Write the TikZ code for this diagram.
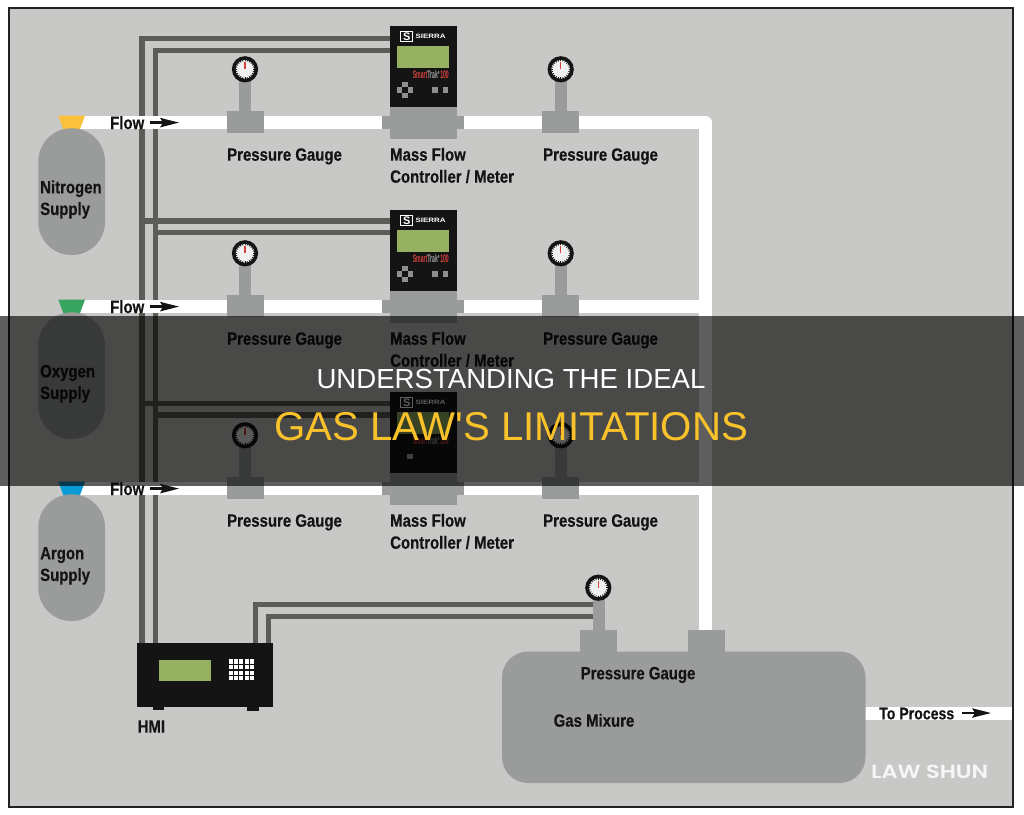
\documentclass[tikz,border=0pt]{standalone}
\usepackage{graphicx}
\usepackage{fontspec}
\setmainfont{Liberation Sans}
\newfontfamily\labelfont[FakeStretch=0.84,FakeBold=0.35]{Liberation Sans Bold}
\newfontfamily\plainbold{Liberation Sans Bold}
\newfontfamily\titlefont{Liberation Sans}
\newfontfamily\markfont{Poppins SemiBold}
\definecolor{panel}{HTML}{C8C8C6}
\definecolor{frameink}{HTML}{222222}
\definecolor{wire}{HTML}{5E5C58}
\definecolor{body}{HTML}{9A9B9B}
\definecolor{ink}{HTML}{141414}
\definecolor{lcd}{HTML}{97B163}
\definecolor{key}{HTML}{8F8F8F}
\definecolor{dial}{HTML}{D8443C}
\definecolor{amber}{HTML}{F9C13C}
\definecolor{leaf}{HTML}{37A45F}
\definecolor{sky}{HTML}{0A9AD6}
\definecolor{titlegold}{HTML}{F9C22B}
\tikzset{
  x=1pt,y=-1pt,
  wireline/.style={draw=wire,line width=5.5pt,line join=miter},
  pipe/.style={draw=white,line width=13pt,line join=round},
  solid body/.style={fill=body,draw=none},
  caption/.style={font=\labelfont\fontsize{17.8}{20}\selectfont,text=ink,anchor=base west,inner sep=0pt},
  key/.style={fill=key,draw=none},
  gaugeface/.style={circle,draw=ink,line width=3.6pt,fill=white!94!black,minimum size=22.6pt,inner sep=0pt},
  titleline/.style={inner sep=0pt},
}
% Dial face: ring, scale ticks and pointer
\newcommand{\dialface}[3]{%
  \node[gaugeface] (#3) at (#1,#2) {};
  \foreach \a in {0,15,...,345}{\draw[ink,line width=.7pt] (#1,#2) ++(\a:8) -- ++(\a:2);}
  \draw[dial,line width=1.1pt] (#1,#2) -- (#1,#2-7);
}
% A dial with its riser and the tee on the pipe below it
\newcommand{\teegauge}[3]{%
  \fill[solid body] (#1-6,#2+10) rectangle (#1+6,#2+44);
  \fill[solid body] (#1-18.5,#2+41.7) rectangle (#1+18.5,#2+64);
  \dialface{#1}{#2}{#3}
}
% Maker's mark and display of a flow controller
\newcommand{\faceplate}[1]{%
  \fill[lcd] (397,#1+20) rectangle (448.7,#1+41.5);
  \draw[white,line width=.9pt] (400.6,#1+5.6) rectangle (412.8,#1+15.6);
  \node[inner sep=0pt,text=white,font=\plainbold\fontsize{11}{11}\selectfont] at (406.7,#1+10.6) {S};
  \node[inner sep=0pt,text=white,anchor=west,font=\plainbold] at (415.3,#1+10.2) {\resizebox{30pt}{4.4pt}{SIERRA}};
  \node[inner sep=0pt,anchor=east,font=\plainbold] at (449,#1+48.5)
    {\resizebox{36pt}{8pt}{\textcolor{dial}{Smart}\textcolor{gray!75}{Trak}\textcolor{white}{\raisebox{4pt}{\fontsize{4}{4}\selectfont®}}\,\textcolor{dial}{100}}};
}
% A flow controller: instrument face above its grey valve body
\newcommand{\controller}[2]{%
  \fill[solid body] (390,#1+81) rectangle (456.5,#1+113);
  \fill[solid body] (382,#1+90.3) rectangle (463.5,#1+103);
  \fill[ink] (390,#1) rectangle (456.5,#1+81.3);
  \faceplate{#1}
  \ifnum#2=1
  \foreach \u/\v in {0/-5.3,0/5.3,-5.3/0,5.3/0}{\fill[key] (405+\u-2.7,#1+64+\v-2.7) rectangle ++(5.4,5.4);}
  \fill[key] (432.3,#1+61.3) rectangle ++(5.4,5.4);
  \fill[key] (443,#1+61.3) rectangle ++(5.4,5.4);
  \fi
}
% A supply bottle with its coloured valve
\newcommand{\bottle}[3]{%
  \fill[#3] (58.3,#1+115.7) -- (85,#1+115.7) -- (80,#1+129) -- (63.3,#1+129) -- cycle;
  \fill[solid body,rounded corners=33pt] (38.3,#1+128.3) rectangle (105,#1+255);
  \node[caption] (#2) at (40,#1+193.3) {#2};
  \node[caption] (#2s) at (40,#1+215) {Supply};
}
\begin{document}
\begin{tikzpicture}
\useasboundingbox (0,0) rectangle (1024,814);
\fill[white] (0,0) rectangle (1024,814);
\draw[fill=panel,draw=frameink,line width=2pt] (9,8) rectangle (1013,807);

% Signal lines from the HMI out to each instrument
\draw[wireline] (392,38.6) -- (142,38.6) -- (142,645);
\draw[wireline] (392,50.4) -- (155.5,50.4) -- (155.5,645);
\foreach \dy in {182.2,364.7}{
  \draw[wireline] (142,38.6+\dy) -- (392,38.6+\dy);
  \draw[wireline] (155.5,50.4+\dy) -- (392,50.4+\dy);
}
\draw[wireline] (255.3,645) -- (255.3,604.7) -- (594,604.7);
\draw[wireline] (268.6,645) -- (268.6,616.5) -- (594,616.5);

% Gas lines
\draw[pipe] (78,122.5) -- (705.5,122.5) -- (705.5,632);
\draw[pipe] (78,306.5) -- (705.5,306.5);
\draw[pipe] (78,488.5) -- (705.5,488.5);
\draw[pipe] (860,713) -- (1012,713);

% Supplies
\bottle{0}{Nitrogen}{amber}
\bottle{184}{Oxygen}{leaf}
\bottle{366}{Argon}{sky}

% Row instruments
\foreach \dy/\live in {0/1,184/1,366/0}{
  \teegauge{245}{69.3+\dy}{g}
  \teegauge{560.7}{69.3+\dy}{h}
  \controller{26+\dy}{\live}
}
% Lone key on the third controller
\fill[gray!65] (407.3,453.7) rectangle ++(5.4,5.4);

% Row captions
\foreach \dy in {0,184,366}{
  \node[caption] (fl) at (110,129+\dy) {Flow};
  \draw[ink,line width=2.6pt] (150,122.6+\dy) -- (165,122.6+\dy);
  \fill[ink] (160,117.8+\dy) -- (179,122.6+\dy) -- (160,127.4+\dy) -- (163,122.6+\dy) -- cycle;
  \node[caption] at (227,160.7+\dy) {Pressure Gauge};
  \node[caption] at (390,160.7+\dy) {Mass Flow};
  \node[caption] at (390,182.7+\dy) {Controller / Meter};
  \node[caption] at (543,160.7+\dy) {Pressure Gauge};
}

% HMI panel
\fill[ink] (136.7,643.3) rectangle (273.3,706.7);
\fill[ink] (153,706) rectangle (164,710);
\fill[ink] (247,706) rectangle (259,711);
\fill[lcd] (159,659.5) rectangle (210.7,681);
\foreach \c in {0,...,4}{\foreach \r in {0,...,3}{
  \fill[white] (229+\c*5.2,659.3+\r*5.6) rectangle ++(3.9,4.2);
}}
\node[caption] (hmi) at (137.5,732.7) {HMI};

% Mixing tank
\fill[solid body] (579.6,629.5) rectangle (617,655);
\fill[solid body] (592.5,597) rectangle (605,632);
\fill[solid body] (687.6,629.5) rectangle (724.8,655);
\fill[solid body,rounded corners=26pt] (502,651.5) rectangle (865.5,783);
\dialface{598.3}{587.7}{tankgauge}
\node[caption] (tanklabel) at (580.5,679.3) {Pressure Gauge};
\node[caption] (mix) at (553.5,726.7) {Gas Mixure};
\node[caption,font=\labelfont\fontsize{16.8}{20}\selectfont] (proc) at (879,719.3) {To Process};
\draw[ink,line width=2.6pt] (962,713) -- (977,713);
\fill[ink] (972,708.2) -- (991,713) -- (972,717.8) -- (975,713) -- cycle;
\node[inner sep=0pt,text=white,opacity=.85,font=\markfont,anchor=base west] (mark) at (871,778) {\resizebox{117pt}{13.5pt}{LAW SHUN}};

% Title band
\fill[black,opacity=.63] (0,316) rectangle (1024,486);
\node[titleline,anchor=base,text=white,font=\titlefont\fontsize{27.6}{30}\selectfont] (t1) at (511,388) {UNDERSTANDING THE IDEAL};
\node[titleline,anchor=base,text=titlegold,font=\titlefont\fontsize{40.2}{42}\selectfont] (t2) at (511,440) {GAS LAW'S LIMITATIONS};
\end{tikzpicture}
\end{document}
